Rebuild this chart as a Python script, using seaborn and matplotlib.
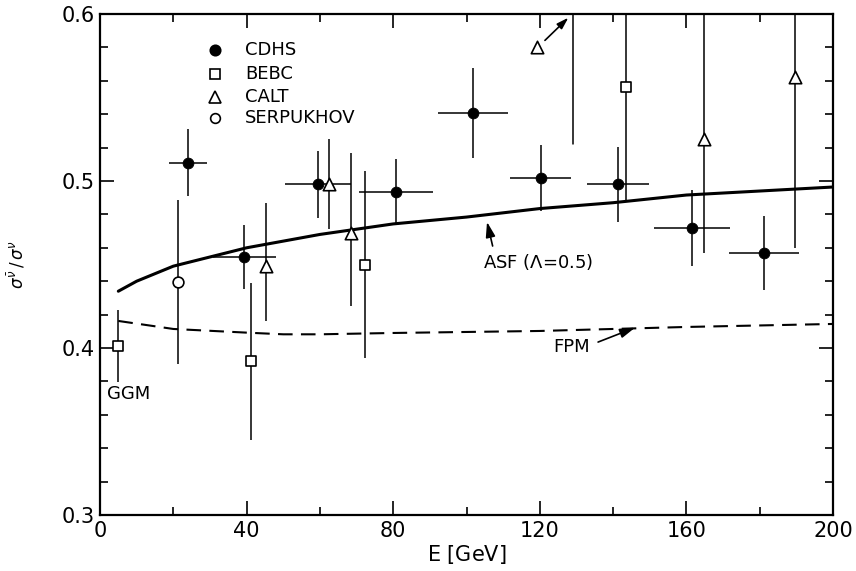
import numpy as np
import pandas as pd
import matplotlib
matplotlib.use("Agg")
import matplotlib.pyplot as plt
import seaborn as sns
from matplotlib.ticker import MultipleLocator

# ---- measurements: sigma(antinu)/sigma(nu) vs beam energy ----
cdhs_E = [24.0, 39.4, 59.5, 80.8, 101.8, 120.3, 141.4, 161.5, 181.2]
cdhs_r = [0.511, 0.4545, 0.498, 0.4934, 0.5407, 0.5018, 0.498, 0.4719, 0.4569]
cdhs_Eerr = [5.3, 8.5, 9.0, 10.0, 9.5, 8.3, 8.5, 10.3, 9.5]
cdhs_rerr = [0.020, 0.019, 0.020, 0.0195, 0.027, 0.020, 0.0225, 0.0225, 0.022]

bebc_E = [4.9, 41.2, 72.3, 143.5]
bebc_r = [0.401, 0.392, 0.450, 0.556]
bebc_rerr = [0.0215, 0.047, 0.056, 0.068]

calt_E = [45.2, 62.5, 68.5, 164.8, 189.6]
calt_r = [0.449, 0.498, 0.469, 0.525, 0.562]
calt_rerr_lo = [0.033, 0.027, 0.044, 0.068, 0.102]
calt_rerr_hi = [0.038, 0.027, 0.048, 0.100, 0.102]

# CALT point lying above the frame: marker shown at 0.58, its error bar at E=129
calt_high_marker_E = 119.2
calt_high_marker_r = 0.580
calt_high_bar_E = 129.0
calt_high_bar_low = 0.522

serp_E = [21.2]
serp_r = [0.4395]
serp_rerr = [0.049]

# ---- model curves ----
asf_E = [5, 10, 20, 40, 60, 80, 100, 120, 140, 160, 180, 200]
asf_r = [0.434, 0.440, 0.449, 0.460, 0.468, 0.4743, 0.4784, 0.4835, 0.487, 0.4916, 0.494, 0.4964]

fpm_E = [5, 20, 40, 50, 60, 80, 120, 160, 200]
fpm_r = [0.4162, 0.4114, 0.4092, 0.4082, 0.4082, 0.409, 0.4102, 0.4126, 0.4144]

legend_labels = ["CDHS", "BEBC", "CALT", "SERPUKHOV"]
x_ticks = [0, 40, 80, 120, 160, 200]
y_ticks = [0.3, 0.4, 0.5, 0.6]

sns.set_style("ticks")
ink = "black"
plt.rcParams["font.family"] = ["DejaVu Sans"]
plt.rcParams.update({"text.color": ink, "axes.labelcolor": ink,
                     "xtick.color": ink, "ytick.color": ink})

fig = plt.figure(figsize=(8.56, 5.71), dpi=100)
ax = fig.add_axes([100 / 856, 1 - 515 / 571, 733 / 856, 501 / 571])

# curves
sns.lineplot(data=pd.DataFrame({"E": asf_E, "r": asf_r}), x="E", y="r",
             ax=ax, color=ink, lw=2.2)
sns.lineplot(data=pd.DataFrame({"E": fpm_E, "r": fpm_r}), x="E", y="r",
             ax=ax, color=ink, lw=1.5, dashes=False, linestyle=(0, (7, 4)))

# error bars
eb = dict(fmt="none", ecolor=ink, elinewidth=1.1, capsize=0, zorder=2)
ax.errorbar(cdhs_E, cdhs_r, xerr=cdhs_Eerr, yerr=cdhs_rerr, **eb)
ax.errorbar(bebc_E, bebc_r, yerr=bebc_rerr, **eb)
ax.errorbar(calt_E, calt_r, yerr=[calt_rerr_lo, calt_rerr_hi], **eb)
ax.errorbar(serp_E, serp_r, yerr=serp_rerr, **eb)
ax.plot([calt_high_bar_E, calt_high_bar_E], [calt_high_bar_low, 0.7],
        color=ink, lw=1.1, zorder=2)

# markers
sns.scatterplot(x=cdhs_E, y=cdhs_r, ax=ax, marker="o", s=60,
                color=ink, edgecolor=ink, zorder=4)
sns.scatterplot(x=bebc_E, y=bebc_r, ax=ax, marker="s", s=55,
                facecolor="white", edgecolor=ink, linewidth=1.2, zorder=4)
sns.scatterplot(x=calt_E + [calt_high_marker_E], y=calt_r + [calt_high_marker_r],
                ax=ax, marker="^", s=80, facecolor="white", edgecolor=ink,
                linewidth=1.2, zorder=4)
sns.scatterplot(x=serp_E, y=serp_r, ax=ax, marker="o", s=60,
                facecolor="white", edgecolor=ink, linewidth=1.2, zorder=4)

# legend drawn inside the frame
leg_x, leg_tx = 31.4, 39.6
leg_y = [0.5784, 0.5641, 0.5503, 0.5377]
leg_style = [dict(marker="o", ms=7.5, mfc=ink),
             dict(marker="s", ms=6.5, mfc="white"),
             dict(marker="^", ms=8, mfc="white"),
             dict(marker="o", ms=7, mfc="white")]
for lab, yy, st in zip(legend_labels, leg_y, leg_style):
    ax.plot([leg_x], [yy], ls="none", mec=ink, mew=1.2, **st)
    ax.text(leg_tx, yy, lab, fontsize=13, va="center", ha="left")

# annotations
arrow = dict(arrowstyle="-|>,head_length=0.7,head_width=0.22", color=ink, lw=1.2)
ax.annotate("ASF ($\\Lambda$=0.5)", xy=(105.6, 0.4755), xytext=(104.5, 0.4515),
            fontsize=13, va="center", ha="left",
            arrowprops=dict(**arrow, relpos=(0.1, 1.0), shrinkA=2, shrinkB=0))
ax.annotate("FPM", xy=(146.0, 0.4122), xytext=(123.6, 0.4005),
            fontsize=13, va="center", ha="left",
            arrowprops=dict(**arrow, relpos=(1.0, 0.6), shrinkA=4, shrinkB=0))
ax.annotate("", xy=(127.8, 0.5978), xytext=(121.4, 0.5842),
            arrowprops=dict(**arrow, shrinkA=0, shrinkB=0))
ax.text(1.9, 0.3725, "GGM", fontsize=13, va="center", ha="left")

# axes
ax.set_xlim(0, 200)
ax.set_ylim(0.3, 0.6)
ax.set_xticks(x_ticks)
ax.set_xticklabels([str(t) for t in x_ticks])
ax.set_yticks(y_ticks)
ax.set_yticklabels([f"{t:.1f}" for t in y_ticks])
ax.xaxis.set_minor_locator(MultipleLocator(20))
ax.yaxis.set_minor_locator(MultipleLocator(0.02))
ax.tick_params(which="both", direction="in", top=True, right=True,
               width=1.2, labelsize=15, color=ink)
ax.tick_params(which="major", length=10, pad=4)
ax.tick_params(which="minor", length=6)
for sp in ax.spines.values():
    sp.set_visible(True)
    sp.set_linewidth(1.6)
    sp.set_color(ink)

ax.set_xlabel("E $\\left[\\mathrm{GeV}\\right]$", fontsize=15, labelpad=0)
ax.set_ylabel("$\\sigma^{\\bar{\\nu}}\\,/\\,\\sigma^{\\nu}$", fontsize=12,
              fontweight="bold", labelpad=24)
ax.xaxis.set_label_coords(0.5, -0.055)

fig.savefig("out.png", dpi=100)
